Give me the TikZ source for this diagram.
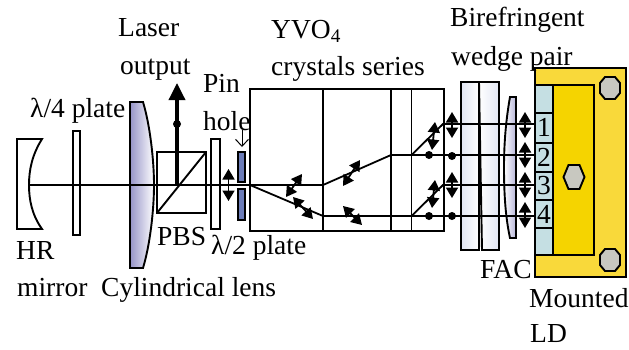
\documentclass[tikz,border=0pt]{standalone}
\usepackage{fontspec}
\setmainfont{Liberation Serif}
\usetikzlibrary{arrows.meta}
\definecolor{lensblue}{RGB}{150, 148, 200}
\definecolor{wedgeblue}{RGB}{226, 230, 244}
\definecolor{pinblue}{RGB}{108, 124, 184}
\definecolor{mountyellow}{RGB}{249, 217, 58}
\definecolor{blockyellow}{RGB}{245, 212, 0}
\definecolor{barblue}{RGB}{197, 223, 227}
\definecolor{boltgray}{RGB}{200, 200, 192}
\tikzset{
  part/.style={draw=black, line width=1.9pt},
  beam/.style={draw=black, line width=1.8pt},
  pol/.style={black, line width=1.8pt, {Triangle[length=10.5pt,width=12pt]}-{Triangle[length=10.5pt,width=12pt]}},
  poldot/.style={fill=black, inner sep=0pt, minimum size=8pt, circle},
  lbl/.style={anchor=base west, inner sep=0pt, font=\fontsize{27.5}{27.5}\selectfont},
  num/.style={anchor=center, inner sep=0pt, font=\fontsize{27.5}{27.5}\selectfont}
}
\begin{document}
\begin{tikzpicture}[x=1pt, y=-1pt]
  \useasboundingbox (0,0) rectangle (629,349);
  % optics on the left
  \draw[part]                                 (17,139) -- (42,139) .. controls (32,155) and (29,170) .. (29,185)
                                              .. controls (29,200) and (32,215) .. (42,229) -- (17,229) -- cycle;
  \draw[part, fill=white]                     (73,131) rectangle (80,235);
  \filldraw[part, left color=lensblue, right color=white] (130,102) -- (143,102) .. controls (150,125) and (154,160) .. (154,185)
                                              .. controls (154,210) and (150,245) .. (143,268) -- (130,268) -- cycle;
  \draw[part]                                 (157,152) rectangle (206,213);
  \draw[part]                                 (157,213) -- (206,152);
  \draw[part, fill=white]                     (211,139) rectangle (220,229);
  \draw[part, fill=pinblue]                   (238,152) rectangle (245,182);
  \draw[part, fill=pinblue]                   (238,189) rectangle (245,220);
  % crystals
  \draw[part]                                 (250,89) rectangle (444,231);
  \draw[part]                                 (323,89) -- (323,231);
  \draw[part]                                 (391,89) -- (391,231);
  \draw[part]                                 (411.5,89) -- (411.5,231);
  % wedge pair and FAC
  \filldraw[part, draw=black, left color=wedgeblue, right color=white] (461,82) rectangle (479,250);
  \filldraw[part, draw=black, left color=white, right color=wedgeblue] (479,82) -- (499,82) -- (499,250) -- (482,250) -- cycle;
  \filldraw[part, left color=white, right color=lensblue!70] (516,97) -- (510,97) .. controls (505,125) and (504,150) .. (504,167)
                                              .. controls (504,190) and (505,215) .. (510,238) -- (516,238) -- cycle;
  % mounted LD
  \draw[part, fill=mountyellow]               (535,68) rectangle (626,277);
  \draw[part, fill=barblue]                   (535,85) rectangle (553,255);
  \draw[part, fill=blockyellow]               (553,85) rectangle (594,255);
  \foreach \y in {113,143,172,200,228} {
    \draw[part] (535,\y) -- (553,\y);
  }
  \node[num] (em1) at (544,127) {1};
  \node[num] (em2) at (544,157) {2};
  \node[num] (em3) at (544,186) {3};
  \node[num] (em4) at (544,214) {4};
  \draw[part, fill=boltgray] (563.5,177) -- (568.5,165) -- (579.5,165) -- (584.5,177) -- (579.5,189) -- (568.5,189) -- cycle;
  \foreach \y in {88,260} {
    \draw[part, fill=boltgray] (600,\y-5) -- (605,\y-11) -- (615,\y-11) -- (620,\y-5)
      -- (620,\y+5) -- (615,\y+11) -- (605,\y+11) -- (600,\y+5) -- cycle;
  }
  % beams
  \draw[beam] (29,185) -- (250,185) -- (323,185) -- (391,155) -- (534,155);
  \draw[beam] (250,185) -- (323,216) -- (534,216);
  \draw[beam] (411.5,155) -- (443,124) -- (534,124);
  \draw[beam] (411.5,216) -- (443,185) -- (534,185);
  \draw[black, line width=3.5pt, -{Triangle[length=17pt,width=16pt]}] (177,185) -- (177,83);
  % polarisations
  \node[poldot] (outdot) at (177,124) {};
  \draw[pol] (228.5,169) -- (228.5,201);
  \draw[pol] (286,197) -- (302,174);
  \draw[pol] (293,197) -- (313,219);
  \draw[pol] (343,186) -- (360,160);
  \draw[pol] (343,206) -- (362,225);
  \draw[pol] (435,122) -- (432,150);
  \draw[pol] (435,180) -- (432,208);
  \foreach \x/\y/\n in {429/155/a, 429/216/b, 452/156/c, 452/216/d} {
    \node[poldot] (dot\n) at (\x,\y) {};
  }
  \draw[pol] (452,112) -- (452,138);
  \draw[pol] (452,172) -- (452,198);
  \foreach \y in {112,142,172,202} {
    \draw[pol] (525,\y) -- (525,\y+26);
  }
  % labels
  \node[lbl] (laser)   at (118,36)  {Laser};
  \node[lbl] (output)  at (120,74)  {output};
  \node[lbl] (quarter) at (30,117)  {λ/4 plate};
  \node[lbl] (pin)     at (203,92)  {Pin};
  \node[lbl] (hole)    at (203,130) {hole};
  \draw[black, line width=1pt, -{Straight Barb[length=7pt,width=13pt]}] (242,130) -- (242,147);
  \node[lbl] (yvo)     at (271,38)  {YVO\textsubscript{4}};
  \node[lbl] (series)  at (271,75)  {crystals series};
  \node[lbl] (biref)   at (450,26)  {Birefringent};
  \node[lbl] (wedge)   at (451,65)  {wedge pair};
  \node[lbl] (hr)      at (16,259)  {HR};
  \node[lbl] (mirror)  at (17,296)  {mirror};
  \node[lbl] (cyl)     at (101,296) {Cylindrical lens};
  \node[lbl] (pbs)     at (157,245) {PBS};
  \node[lbl] (half)    at (211,254) {λ/2 plate};
  \node[lbl] (fac)     at (480,278) {FAC};
  \node[lbl] (mounted) at (529,307) {Mounted};
  \node[lbl] (ld)      at (530,342) {LD};
\end{tikzpicture}
\end{document}
